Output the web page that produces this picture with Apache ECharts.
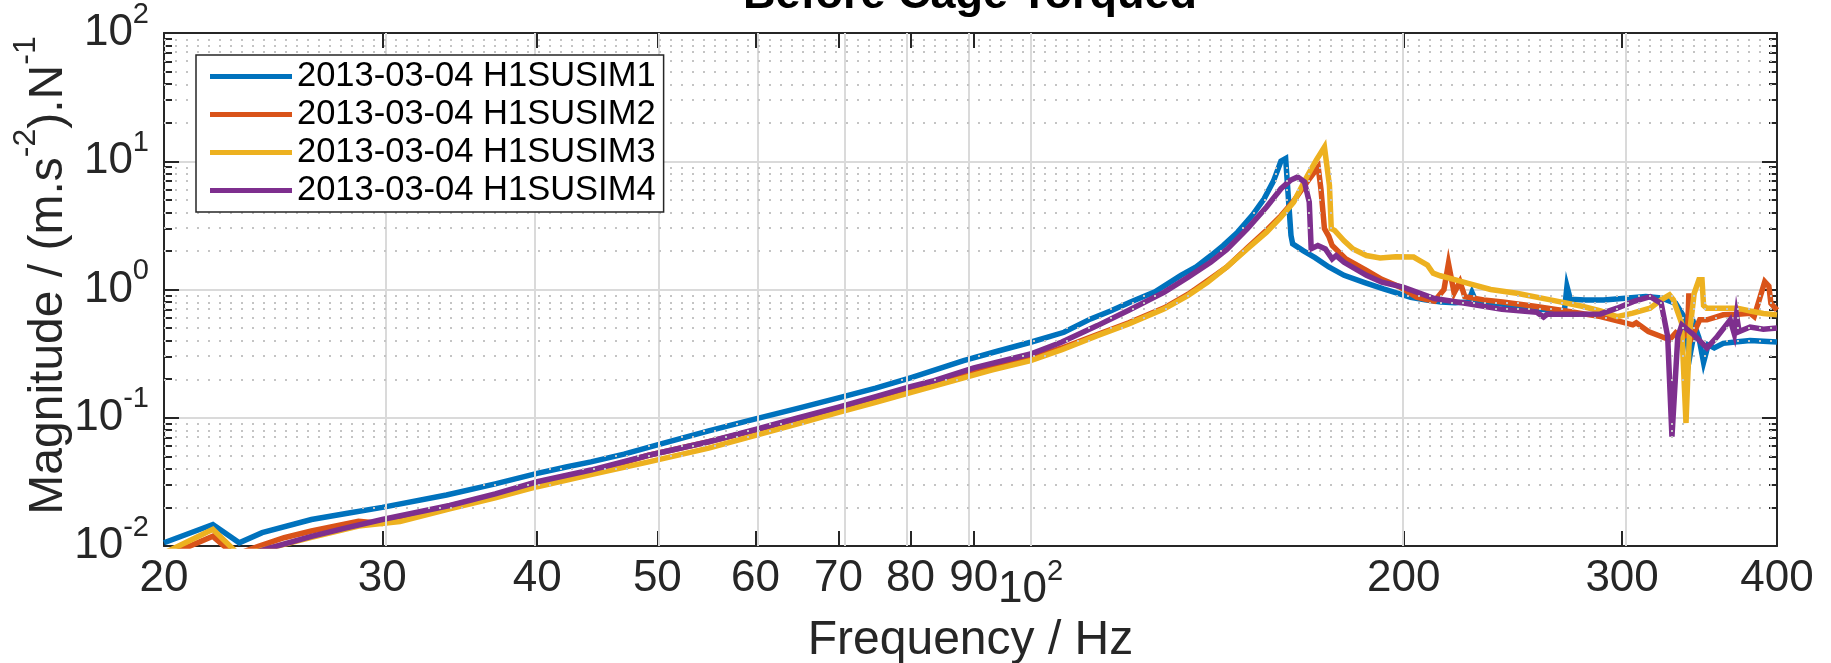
<!DOCTYPE html>
<html><head><meta charset="utf-8">
<script src="https://cdn.jsdelivr.net/npm/echarts@6/dist/echarts.min.js"></script>
<style>html,body{margin:0;padding:0;background:#fff}#c{width:1831px;height:663px}</style>
</head><body><div id="c"></div>
<script>
// ---- data (frequency in Hz, magnitude in (m.s^-2).N^-1) ----
const seriesNames = ['2013-03-04 H1SUSIM1','2013-03-04 H1SUSIM2','2013-03-04 H1SUSIM3','2013-03-04 H1SUSIM4'];
const seriesColors = ['#0072BD','#D95319','#EDB120','#7E2F8E'];

const fIM1 = [20,21.9,23.0,24.0,26.3,28.2,30,33.8,37,40,42.3,44.2,47,50,55,60,65,70,75,80,84,88.3,94,100,106.4,111.8,116,120.4,126,132.2,136,139.8,143,146.9,151,154.3,157,159.2,160.6,162.2,162.7,166,169.6,174,179,186,192.6,202.6,208,214.4,220,225.5,227,228.5,232.8,245,258,269.5,270.8,272.5,280,290,300,313.5,322.6,331.4,336.5,340,343.6,346,349,352,356,362,370,380.5,390,400];
const mIM1 = [0.0106,0.0147,0.0106,0.0127,0.0161,0.0181,0.0200,0.0250,0.0305,0.0368,0.0415,0.0453,0.052,0.0615,0.079,0.098,0.119,0.143,0.170,0.205,0.238,0.279,0.33,0.388,0.464,0.59,0.68,0.80,0.96,1.29,1.5,1.84,2.2,2.8,3.8,5.1,7.0,10.0,10.5,2.64,2.27,2.0,1.77,1.5,1.29,1.13,1.01,0.87,0.83,0.80,0.79,0.80,0.95,0.82,0.80,0.75,0.70,0.68,1.06,0.84,0.83,0.83,0.85,0.88,0.86,0.78,0.615,0.29,0.51,0.42,0.27,0.37,0.35,0.38,0.39,0.40,0.395,0.39];

const fIM2 = [20,21.9,22.8,23.8,25,26.3,28.7,30,31,34,37,40,44.2,49.2,55,60,65,70,75,80,86.7,93,100,106,113.2,120,128.2,134,138.9,144,149.6,155,159.2,163,167.3,170.6,171.5,172.6,174,175.1,179.6,186.6,192,198.8,204.8,211.7,215.5,217.3,219.6,222,224,232,240.3,255,272.8,288.2,301.8,306,308,315,322.6,327.6,331.4,335,338.8,339.6,340.5,343.6,346.5,351.2,362,372,380.5,383.4,391,394,395.5,400];
const mIM2 = [0.0082,0.0119,0.0085,0.0099,0.0116,0.0131,0.0156,0.0150,0.0166,0.0205,0.025,0.0308,0.0379,0.051,0.065,0.080,0.099,0.118,0.142,0.170,0.205,0.245,0.29,0.35,0.445,0.55,0.72,0.92,1.17,1.5,2.12,2.9,3.75,4.9,7.0,9.0,6.0,2.98,2.6,2.2,1.73,1.41,1.2,1.04,0.87,0.81,1.0,1.6,0.94,1.15,0.88,0.83,0.80,0.74,0.67,0.615,0.55,0.53,0.55,0.47,0.43,0.405,0.46,0.42,0.45,0.935,0.40,0.485,0.58,0.58,0.635,0.64,0.654,0.615,1.15,1.06,0.78,0.69];

const fIM3 = [20,21.9,23.0,24.2,26.3,28.7,31,34,37,40,44.2,49.2,55,60,65,70,75,80,86.7,93,100,106,113.2,120,128.2,134,138.9,144,149.6,155,159.2,163,167.3,170,172.6,174.2,174.8,175.9,179,182,186.6,191.4,197,203.7,206,209,211.2,214,218,225,235,246.7,262.6,278.5,288.2,297.2,306,316,322.6,327.6,330,335,337.8,340,343,346,348,349,351,360,371.6,380.5,390,400];
const mIM3 = [0.0088,0.0135,0.0085,0.0095,0.0117,0.0143,0.0155,0.0195,0.0238,0.029,0.036,0.0453,0.058,0.073,0.090,0.110,0.132,0.157,0.195,0.235,0.279,0.34,0.437,0.54,0.706,0.9,1.14,1.5,2.08,2.8,3.67,4.8,7.78,10.2,12.9,6.5,2.98,2.89,2.4,2.07,1.84,1.76,1.8,1.79,1.68,1.55,1.34,1.28,1.22,1.12,1.0,0.935,0.83,0.74,0.68,0.615,0.654,0.715,0.83,0.908,0.83,0.55,0.091,0.457,0.935,1.19,1.19,0.75,0.715,0.715,0.715,0.68,0.65,0.634];

const fIM4 = [20,22,23,24.4,26.3,28,30,34,37,40,44.2,49.2,55,60,65,70,75,80,83.6,90,100,106,113.2,120,128.2,134,139.8,144,149.6,155,159.2,162,164.2,166.3,167.8,168.4,170.5,172.9,175.1,176.4,179,186.6,192,200,211.7,225.5,240,256,259.3,261,275,288.2,297.2,306.2,316.1,322.6,326.5,329.1,332.7,335.2,343,351.2,358,366.7,369.5,371,372.8,380.5,390,400];
const mIM4 = [0.0078,0.0088,0.0082,0.0097,0.0119,0.0138,0.0161,0.0207,0.0255,0.0317,0.0391,0.051,0.065,0.081,0.100,0.121,0.146,0.175,0.195,0.245,0.314,0.39,0.523,0.69,0.953,1.25,1.64,2.05,2.98,4.4,6.11,7.1,7.55,6.9,4.81,2.08,2.2,2.07,1.73,1.84,1.63,1.29,1.14,1.04,0.85,0.773,0.70,0.666,0.61,0.64,0.64,0.645,0.715,0.805,0.88,0.78,0.43,0.0714,0.43,0.53,0.44,0.35,0.43,0.58,0.45,0.63,0.47,0.51,0.49,0.50];

// ---- ticks ----
const xTickLabels = [20,30,40,50,60,70,80,90,100,200,300,400];
const xTickMarks = [30,40,50,60,70,80,90,100,200,300];
const xRange = [20,400];
const yDecades = [-2,-1,0,1,2];
const yMinorFactors = [2,3,4,5,6,7,8,9];

// ---- helpers ----
const L = Math.log10;
const toPts = (f,m) => f.map((v,i)=>[L(v), L(m[i])]);
const yMinor = [];
yDecades.slice(0,-1).forEach(d => yMinorFactors.forEach(k => yMinor.push(d + L(k))));

const FONT = '"Liberation Sans", Arial, Helvetica, sans-serif';
const AX = '#262626';
const GRID = '#dadada';

const chart = echarts.init(document.getElementById('c'), null, {renderer:'canvas', width:1831, height:663});

const xBase = {type:'value', min:L(xRange[0]), max:L(xRange[1]), splitLine:{show:false}};
const yBase = {type:'value', min:-2, max:2, interval:1};
const axLine = {show:true, onZero:false, lineStyle:{color:AX, width:2}};

const dataSeries = [[fIM1,mIM1],[fIM2,mIM2],[fIM3,mIM3],[fIM4,mIM4]].map((s,i)=>({
  name: seriesNames[i], type:'line', data: toPts(s[0], s[1]), symbol:'none', showSymbol:false,
  lineStyle:{width:5.5, color:seriesColors[i], join:'miter'}, itemStyle:{color:seriesColors[i]},
  z:3, clip:true, animation:false
}));

const gridSeries = {
  name:'_grid', type:'line', data:[], z:1, silent:true, animation:false,
  markLine:{
    silent:true, symbol:['none','none'], label:{show:false}, animation:false,
    emphasis:{disabled:true},
    data: xTickMarks.map(f=>({xAxis:L(f), lineStyle:{color:GRID, width:2, type:'solid'}}))
      .concat(yMinor.map(v=>({yAxis:v, lineStyle:{color:'#c4c4c4', width:2, type:[2,9]}})))
  }
};

const option = {
  backgroundColor:'#fff',
  animation:false,
  textStyle:{fontFamily:FONT},
  grid:{left:164, right:54, top:33, bottom:117, containLabel:false, outerBoundsMode:'none'},
  graphic:[{
    type:'text', x:970, y:18, z:50,
    style:{text:'Before Cage Torqued', fontSize:45, fontWeight:'bold', fontFamily:FONT, fill:'#000', align:'center', verticalAlign:'bottom'}
  }],
  legend:{
    data:seriesNames, orient:'vertical', left:196, top:55, z:20,
    backgroundColor:'#fff', borderColor:AX, borderWidth:1.5, borderRadius:0,
    padding:[4,8,4,14], itemWidth:82, itemHeight:5, itemGap:3, icon:'rect',
    textStyle:{fontSize:34.5, fontFamily:FONT, color:'#000'}
  },
  xAxis:[
    Object.assign({}, xBase, {
      position:'bottom',
      axisLine:axLine,
      axisTick:{show:true, inside:true, length:15, customValues:xTickMarks.map(L), lineStyle:{color:AX, width:2}},
      axisLabel:{
        show:true, margin:11, customValues:xTickLabels.map(L), color:AX,
        formatter:v=>{const f=Math.round(Math.pow(10,v)); return f===100 ? '{a|10}{b|2}' : '{c|'+f+'}';},
        rich:{
          c:{fontSize:44, fontFamily:FONT, color:AX},
          a:{fontSize:44, fontFamily:FONT, color:AX, height:44, verticalAlign:'bottom'},
          b:{fontSize:29, fontFamily:FONT, color:AX, height:29, lineHeight:55, verticalAlign:'top'}
        }
      },
      name:'Frequency / Hz', nameLocation:'middle', nameGap:71,
      nameTextStyle:{fontSize:48, fontFamily:FONT, color:AX}
    }),
    Object.assign({}, xBase, {
      position:'top',
      axisLine:axLine,
      axisTick:{show:true, inside:true, length:15, customValues:xTickMarks.map(L), lineStyle:{color:AX, width:2}},
      axisLabel:{show:false}
    })
  ],
  yAxis:[
    Object.assign({}, yBase, {
      position:'left',
      axisLine:axLine,
      axisTick:{show:true, inside:true, length:15, lineStyle:{color:AX, width:2}},
      splitLine:{show:true, lineStyle:{color:GRID, width:2}},
      axisLabel:{
        show:true, margin:15, color:AX,
        formatter:v=>'{a|10}{b|'+Math.round(v)+'}',
        rich:{
          a:{fontSize:44, fontFamily:FONT, color:AX, height:66},
          b:{fontSize:29, fontFamily:FONT, color:AX, height:29, verticalAlign:'top'}
        }
      },
      name:'{n|Magnitude / (m.s}{s|-2}{n|).N}{s|-1}', nameLocation:'middle', nameGap:76, nameRotate:90,
      nameMoveOverlap:false,
      nameTextStyle:{
        padding:[0,0,0,28],
        rich:{
          n:{fontSize:48, fontFamily:FONT, color:AX, height:78},
          s:{fontSize:32, fontFamily:FONT, color:AX, height:32, verticalAlign:'top'}
        }
      }
    }),
    Object.assign({}, yBase, {
      position:'left', axisLine:{show:false, onZero:false}, splitLine:{show:false}, axisLabel:{show:false},
      axisTick:{show:true, inside:true, length:8, customValues:yMinor, lineStyle:{color:AX, width:2}}
    }),
    Object.assign({}, yBase, {
      position:'right', axisLine:axLine, splitLine:{show:false}, axisLabel:{show:false},
      axisTick:{show:true, inside:true, length:15, lineStyle:{color:AX, width:2}}
    }),
    Object.assign({}, yBase, {
      position:'right', axisLine:{show:false, onZero:false}, splitLine:{show:false}, axisLabel:{show:false},
      axisTick:{show:true, inside:true, length:8, customValues:yMinor, lineStyle:{color:AX, width:2}}
    })
  ],
  series:[gridSeries].concat(dataSeries)
};
chart.setOption(option);
</script>
</body></html>
